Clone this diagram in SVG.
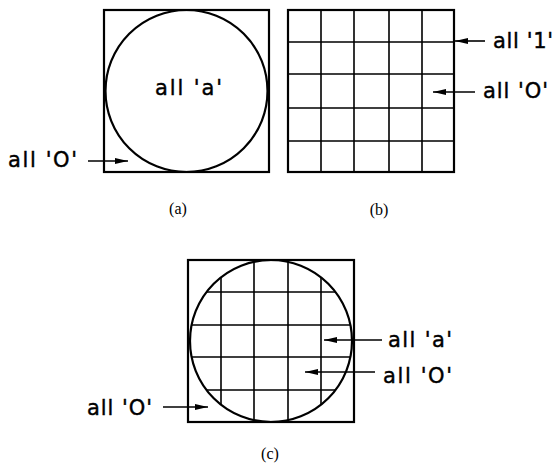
<svg xmlns="http://www.w3.org/2000/svg" width="554" height="468" viewBox="0 0 554 468">
<style>
.frame{fill:none;stroke:#000;stroke-width:2.2}
.grid{fill:none;stroke:#000;stroke-width:1.6}
.lbl{font-family:"DejaVu Sans","Liberation Sans",sans-serif;font-size:21px;fill:#000;stroke:#000;stroke-width:0.4}
.cap{font-family:"Liberation Serif","Times New Roman",serif;font-size:16px;fill:#000;text-anchor:middle}
.arr{stroke:#000;stroke-width:1.6;fill:none;marker-end:url(#ah)}
</style>
<defs>
<marker id="ah" markerWidth="14" markerHeight="8" refX="13" refY="4" orient="auto" markerUnits="userSpaceOnUse">
<path d="M0,1 L13,4 L0,7 Z" fill="#000"/>
</marker>
<clipPath id="cc"><circle cx="271" cy="341" r="81"/></clipPath>
</defs>
<rect width="554" height="468" fill="#fff"/>
<g id="a">
<rect class="frame" x="104" y="10" width="165" height="162"/>
<circle class="frame" cx="186.5" cy="91" r="81"/>
<text class="lbl" x="155" y="95" textLength="67" lengthAdjust="spacing">all 'a'</text>
<text class="lbl" x="8" y="167" textLength="69" lengthAdjust="spacing">all 'O'</text>
<text class="cap" x="178" y="214">(a)</text>
</g>
<g id="b">
<rect class="frame" x="288" y="10" width="166" height="162"/>
<path class="grid" d="M321,10V172M354,10V172M389,10V172M422,10V172M288,42H454M288,74H454M288,108H454M288,141H454"/>
<text class="lbl" x="493" y="48" textLength="60" lengthAdjust="spacing">all '1'</text>
<text class="lbl" x="483" y="98" textLength="65" lengthAdjust="spacing">all 'O'</text>
<text class="cap" x="379" y="215">(b)</text>
</g>
<g id="c">
<rect class="frame" x="188" y="260" width="166" height="162"/>
<path class="grid" clip-path="url(#cc)" d="M221,260V422M254,260V422M288,260V422M321,260V422M188,292H354M188,325H354M188,357H354M188,390H354"/>
<circle class="frame" cx="271" cy="341" r="81"/>
<text class="lbl" x="388" y="347" textLength="64" lengthAdjust="spacing">all 'a'</text>
<text class="lbl" x="383" y="383" textLength="69" lengthAdjust="spacing">all 'O'</text>
<text class="lbl" x="87" y="415" textLength="65" lengthAdjust="spacing">all 'O'</text>
<text class="cap" x="270" y="459">(c)</text>
</g>
<g id="connectors">
<line class="arr" x1="88" y1="161" x2="128" y2="161"/>
<line class="arr" x1="485" y1="41" x2="455" y2="41"/>
<line class="arr" x1="475" y1="92" x2="433" y2="92"/>
<line class="arr" x1="382" y1="340" x2="324" y2="340"/>
<line class="arr" x1="375" y1="372" x2="305" y2="372"/>
<line class="arr" x1="163" y1="407" x2="208" y2="407"/>
</g>
</svg>
